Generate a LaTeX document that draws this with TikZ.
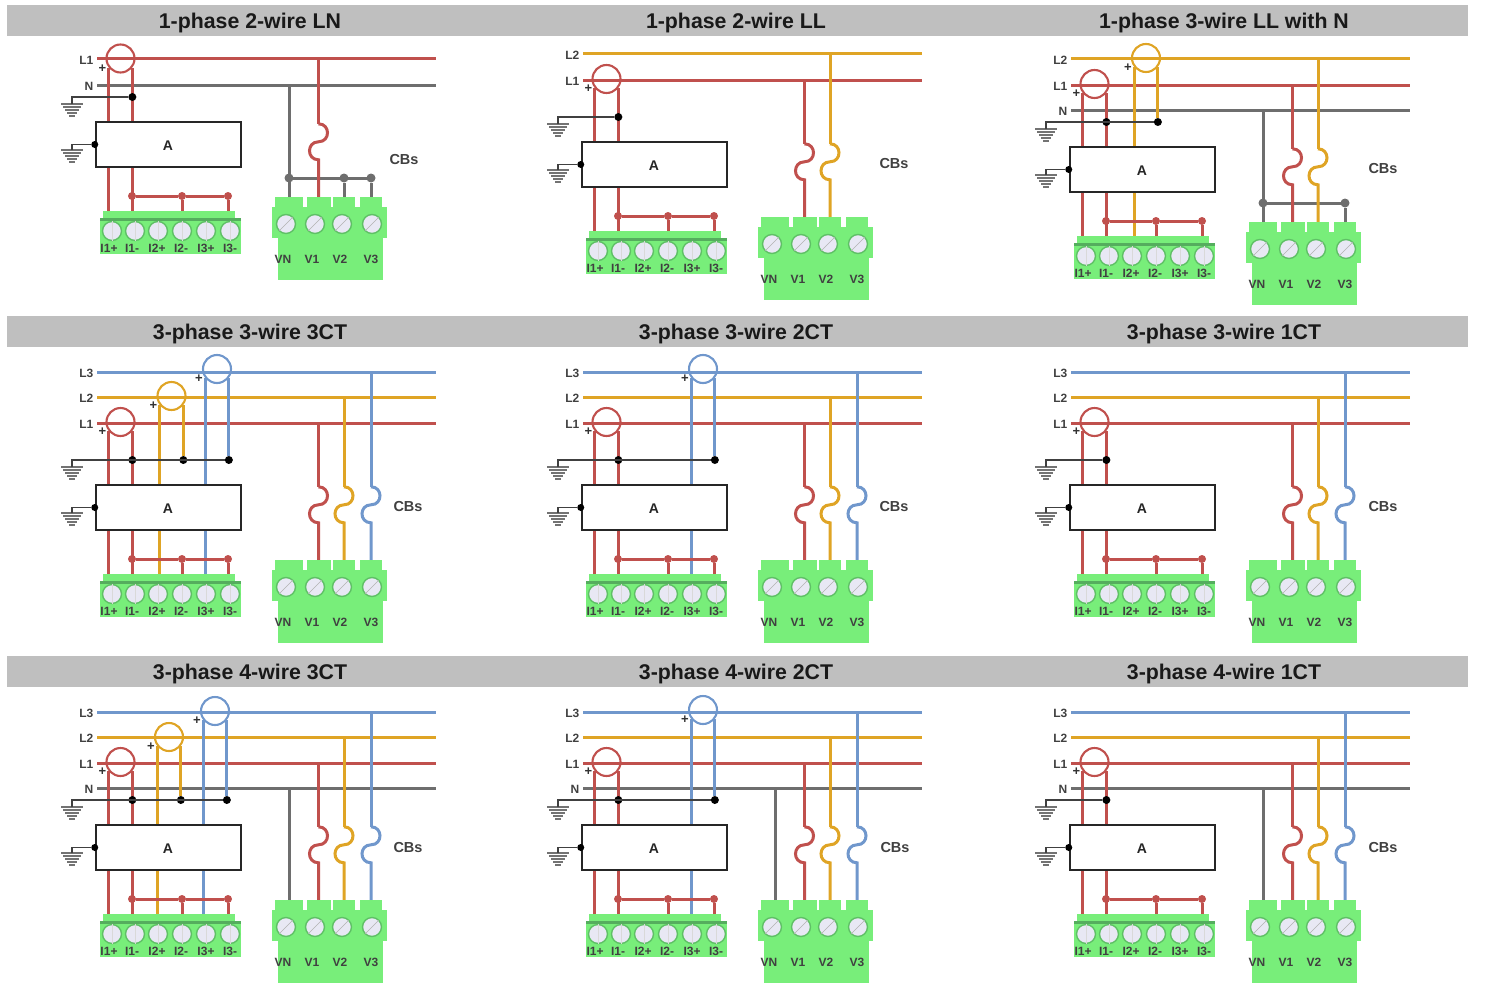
\documentclass[tikz,border=0pt]{standalone}
\usepackage{fontspec}
\setmainfont{Liberation Sans}

\definecolor{lineRed}{HTML}{C0504D}
\definecolor{lineYellow}{HTML}{DFA425}
\definecolor{lineBlue}{HTML}{7097CC}
\definecolor{lineGray}{HTML}{6E6E6E}
\definecolor{blockGreen}{HTML}{78EE7A}
\definecolor{bandGreen}{HTML}{55AD5E}
\definecolor{screwFill}{HTML}{E8E8F4}
\definecolor{titleGray}{HTML}{BFBFBF}

\tikzset{
    titlebar/.style={fill=titleGray, inner sep=0, minimum width=1461, minimum height=31},
    titletext/.style={font=\fontsize{21.3}{24}\selectfont\bfseries, text=black!90, inner sep=0},
    buslabel/.style={font=\fontsize{12}{14}\selectfont\bfseries, anchor=east, inner sep=0, text=black!75},
    bigwire/.style={line width=3},
    wire/.style={line width=3},
    gndwire/.style={line width=1.5, black!75},
    ctring/.style={circle, line width=2.1, minimum size=28, inner sep=0},
    plusmark/.style={font=\fontsize{13}{14}\selectfont\bfseries, inner sep=0, text=black!80},
    dot/.style={circle, fill=black, inner sep=0, minimum size=8},
    wiredot/.style={circle, inner sep=0, minimum size=8},
    meterbox/.style={draw=black!85, line width=2.5, fill=white, inner sep=0, minimum width=145, minimum height=45},
    metertext/.style={font=\fontsize{14}{16}\selectfont\bfseries, inner sep=0, text=black!85},
    greenbox/.style={fill=blockGreen, inner sep=0},
    screw/.style={circle, fill=screwFill, draw=bandGreen!70!blockGreen, line width=1.4, inner sep=0, minimum size=19},
    slot/.style={line width=.6, black!15},
    termlabel/.style={font=\fontsize{12}{14}\selectfont\bfseries, inner sep=0, text=black!75},
    cblabel/.style={font=\fontsize{14.5}{16}\selectfont\bfseries, inner sep=0, text=black!75},
    earthbar/.style={line width=2.4, black!55},
}

\newcommand{\earth}[3]{
    \coordinate (#1) at (#2,#3);
    \foreach \k in {0,1,2,3,4} {
        \draw[earthbar] (#2-11+2*\k,#3+3*\k) -- (#2+11-2*\k,#3+3*\k);
    }
}

% both connector blocks, same place in every panel
\newcommand{\blocks}{
    \node[greenbox, minimum width=132, minimum height=8] (istrip) at (169,215) {};
    \node[greenbox, minimum width=141, minimum height=36] (iblock) at (170.5,236) {};
    \node[fill=bandGreen, inner sep=0, minimum width=141, minimum height=3] (iband) at (170.5,219) {};
    \foreach \x/\lx/\t/\n in {112/109/I1+/a, 135/132/I1-/b, 158/157/I2+/c, 182/181/I2-/d, 206/206/I3+/e, 230/230/I3-/f} {
        \node[screw] (iscrew\n) at (\x,231) {};
        \draw[slot] (iscrew\n.north) -- (iscrew\n.south);
        \node[termlabel] (ilabel\n) at (\lx,248) {\t};
    }
    \node[greenbox, minimum width=105, minimum height=44] (vbase) at (330,258) {};
    \node[greenbox, minimum width=115, minimum height=31] (vblock) at (329.5,222.5) {};
    \foreach \x/\w/\n in {289/28/VN, 318.5/24/Va, 344/22/Vb, 371/22/Vc} {
        \node[greenbox, minimum width=\w, minimum height=11] (tab\n) at (\x,202.5) {};
    }
    \foreach \x/\lx/\t/\n in {286/283/VN/VN, 315/312/V1/Va, 342/340/V2/Vb, 372/371/V3/Vc} {
        \node[screw] (vscrew\n) at (\x,224) {};
        \draw[slot, black!30] (vscrew\n.225) -- (vscrew\n.45);
        \node[termlabel] (vlabel\n) at (\lx,259) {\t};
    }
}

\newcommand{\mainbus}[3]{
    \node[buslabel] (label#1) at (93.5,#2+1) {#1};
    \coordinate (#1w) at (97,#2);
    \coordinate (#1e) at (436,#2);
    \draw[bigwire, #3] (#1w) -- (#1e);
}

% current transformer on L1, both legs run down to the block
\newcommand{\ctmain}[4]{
    \node[ctring, draw=#4] (#1) at (#2,#3) {};
    \node[plusmark] (#1plus) at (#2-18,#3+10) {+};
    \draw[wire, #4] (#1.218) -- (#1.218 |- istrip.north);
    \draw[wire, #4] (#1.-38) -- (#1.-38 |- istrip.north);
    \coordinate (gndlevel) at (0,97);
    \node[dot] (#1dot) at (#1.-38 |- gndlevel) {};
}

% other transformers, right leg stops at the earth wire
\newcommand{\ctextra}[4]{
    \node[ctring, draw=#4] (#1) at (#2,#3) {};
    \node[plusmark] (#1plus) at (#2-18,#3+10) {+};
    \draw[wire, #4] (#1.218) -- (#1.218 |- istrip.north);
    \node[dot] (#1dot) at (#1.-38 |- gndlevel) {};
    \draw[wire, #4] (#1.-38) -- (#1dot);
}

\newcommand{\meterpart}[1]{
    \node[wiredot, fill=lineRed] (barb) at (132,196) {};
    \node[wiredot, fill=lineRed] (bard) at (182,196) {};
    \node[wiredot, fill=lineRed] (barf) at (228,196) {};
    \draw[wire, lineRed] (barb) -- (bard) -- (barf);
    \draw[wire, lineRed] (bard) -- (bard |- istrip.north);
    \draw[wire, lineRed] (barf) -- (barf |- istrip.north);
    \node[meterbox] (meter) at (168.5,144.5) {};
    \node[metertext] (metername) at (168,145.5) {A};
    \earth{earthA}{72}{104}
    \earth{earthB}{72}{150}
    \draw[gndwire] (#1) -| (earthA);
    \node[dot, minimum size=7] (meterdot) at (meter.west) {};
    \draw[gndwire] (meterdot) -| (earthB);
}

% breaker: line from bus, s-bend, then on to the tab
\newcommand{\cbwire}[3]{
    \coordinate (cbtop#1) at (0,124);
    \draw[wire, #3] (tab#1.north |- #2w) -- (tab#1.north |- cbtop#1);
    \draw[wire, #3, shift={(tab#1.north)}] (0,-73) .. controls (12,-73) and (12,-55) .. (0,-55)
        .. controls (-12,-55) and (-12,-37) .. (0,-37) -- (0,0);
}

\newcommand{\neutralwire}{
    \draw[wire, lineGray] (tabVN.north |- Nw) -- (tabVN.north);
}

\newcommand{\neutralbar}[1]{
    \coordinate (barlevel) at (0,178);
    \draw[wire, lineGray] (tabVN.north |- barlevel) -- (tabVc.north |- barlevel);
    \foreach \t in {#1} {
        \node[wiredot, minimum size=9, fill=lineGray] (bar\t) at (tab\t.north |- barlevel) {};
        \draw[wire, lineGray] (bar\t) -- (tab\t.north);
    }
}

\begin{document}
\begin{tikzpicture}[x=1pt, y=-1pt]
    \useasboundingbox (0,0) rectangle (1488,998);

    \foreach \y/\n in {20.5/a, 331.5/b, 671.5/c} {
        \node[titlebar] (bar\n) at (737.5,\y) {};
    }
    \foreach \x/\y/\t/\n in {250/22.5/1-phase 2-wire LN/a, 736/22.5/1-phase 2-wire LL/b, 1224/22.5/1-phase 3-wire LL with N/c,
        250/333.5/3-phase 3-wire 3CT/d, 736/333.5/3-phase 3-wire 2CT/e, 1224/333.5/3-phase 3-wire 1CT/f,
        250/673.5/3-phase 4-wire 3CT/g, 736/673.5/3-phase 4-wire 2CT/h, 1224/673.5/3-phase 4-wire 1CT/i} {
        \node[titletext] (title\n) at (\x,\y) {\t};
    }

    \begin{scope}[shift={(0,0)}, name prefix=lna-]
        \blocks
        \mainbus{L1}{59}{lineRed}
        \mainbus{N}{85}{lineGray}
        \ctmain{ctone}{120.5}{58.5}{lineRed}
        \meterpart{ctonedot}
        \neutralwire
        \neutralbar{VN,Vb,Vc}
        \cbwire{Va}{L1}{lineRed}
        \node[cblabel] (cbs) at (404,160) {CBs};
    \end{scope}

    \begin{scope}[shift={(486,20)}, name prefix=llb-]
        \blocks
        \mainbus{L2}{34}{lineYellow}
        \mainbus{L1}{60}{lineRed}
        \ctmain{ctone}{120.5}{59}{lineRed}
        \meterpart{ctonedot}
        \cbwire{Va}{L1}{lineRed}
        \cbwire{Vb}{L2}{lineYellow}
        \node[cblabel] (cbs) at (408,144) {CBs};
    \end{scope}

    \begin{scope}[shift={(974,25)}, name prefix=llc-]
        \blocks
        \mainbus{L2}{34}{lineYellow}
        \mainbus{L1}{60}{lineRed}
        \mainbus{N}{85}{lineGray}
        \ctmain{ctone}{120.5}{59}{lineRed}
        \ctextra{cttwo}{172}{33}{lineYellow}
        \meterpart{cttwodot}
        \neutralwire
        \neutralbar{VN,Vc}
        \cbwire{Va}{L1}{lineRed}
        \cbwire{Vb}{L2}{lineYellow}
        \node[cblabel] (cbs) at (409,144) {CBs};
    \end{scope}

    \begin{scope}[shift={(0,363)}, name prefix=thd-]
        \blocks
        \mainbus{L3}{9}{lineBlue}
        \mainbus{L2}{34}{lineYellow}
        \mainbus{L1}{60}{lineRed}
        \ctmain{ctone}{120.5}{59}{lineRed}
        \ctextra{cttwo}{171.5}{33}{lineYellow}
        \ctextra{ctthree}{217}{6}{lineBlue}
        \meterpart{ctthreedot}
        \cbwire{Va}{L1}{lineRed}
        \cbwire{Vb}{L2}{lineYellow}
        \cbwire{Vc}{L3}{lineBlue}
        \node[cblabel] (cbs) at (408,144) {CBs};
    \end{scope}

    \begin{scope}[shift={(486,363)}, name prefix=the-]
        \blocks
        \mainbus{L3}{9}{lineBlue}
        \mainbus{L2}{34}{lineYellow}
        \mainbus{L1}{60}{lineRed}
        \ctmain{ctone}{120.5}{59}{lineRed}
        \ctextra{ctthree}{217}{6}{lineBlue}
        \meterpart{ctthreedot}
        \cbwire{Va}{L1}{lineRed}
        \cbwire{Vb}{L2}{lineYellow}
        \cbwire{Vc}{L3}{lineBlue}
        \node[cblabel] (cbs) at (408,144) {CBs};
    \end{scope}

    \begin{scope}[shift={(974,363)}, name prefix=thf-]
        \blocks
        \mainbus{L3}{9}{lineBlue}
        \mainbus{L2}{34}{lineYellow}
        \mainbus{L1}{60}{lineRed}
        \ctmain{ctone}{120.5}{59}{lineRed}
        \meterpart{ctonedot}
        \cbwire{Va}{L1}{lineRed}
        \cbwire{Vb}{L2}{lineYellow}
        \cbwire{Vc}{L3}{lineBlue}
        \node[cblabel] (cbs) at (409,144) {CBs};
    \end{scope}

    \begin{scope}[shift={(0,703)}, name prefix=fog-]
        \blocks
        \mainbus{L3}{9}{lineBlue}
        \mainbus{L2}{34}{lineYellow}
        \mainbus{L1}{60}{lineRed}
        \mainbus{N}{85}{lineGray}
        \ctmain{ctone}{120.5}{59}{lineRed}
        \ctextra{cttwo}{169}{34}{lineYellow}
        \ctextra{ctthree}{215}{8}{lineBlue}
        \meterpart{ctthreedot}
        \neutralwire
        \cbwire{Va}{L1}{lineRed}
        \cbwire{Vb}{L2}{lineYellow}
        \cbwire{Vc}{L3}{lineBlue}
        \node[cblabel] (cbs) at (408,144) {CBs};
    \end{scope}

    \begin{scope}[shift={(486,703)}, name prefix=foh-]
        \blocks
        \mainbus{L3}{9}{lineBlue}
        \mainbus{L2}{34}{lineYellow}
        \mainbus{L1}{60}{lineRed}
        \mainbus{N}{85}{lineGray}
        \ctmain{ctone}{120.5}{59}{lineRed}
        \ctextra{ctthree}{217}{7}{lineBlue}
        \meterpart{ctthreedot}
        \neutralwire
        \cbwire{Va}{L1}{lineRed}
        \cbwire{Vb}{L2}{lineYellow}
        \cbwire{Vc}{L3}{lineBlue}
        \node[cblabel] (cbs) at (409,144) {CBs};
    \end{scope}

    \begin{scope}[shift={(974,703)}, name prefix=foi-]
        \blocks
        \mainbus{L3}{9}{lineBlue}
        \mainbus{L2}{34}{lineYellow}
        \mainbus{L1}{60}{lineRed}
        \mainbus{N}{85}{lineGray}
        \ctmain{ctone}{120.5}{59}{lineRed}
        \meterpart{ctonedot}
        \neutralwire
        \cbwire{Va}{L1}{lineRed}
        \cbwire{Vb}{L2}{lineYellow}
        \cbwire{Vc}{L3}{lineBlue}
        \node[cblabel] (cbs) at (409,144) {CBs};
    \end{scope}
\end{tikzpicture}
\end{document}
